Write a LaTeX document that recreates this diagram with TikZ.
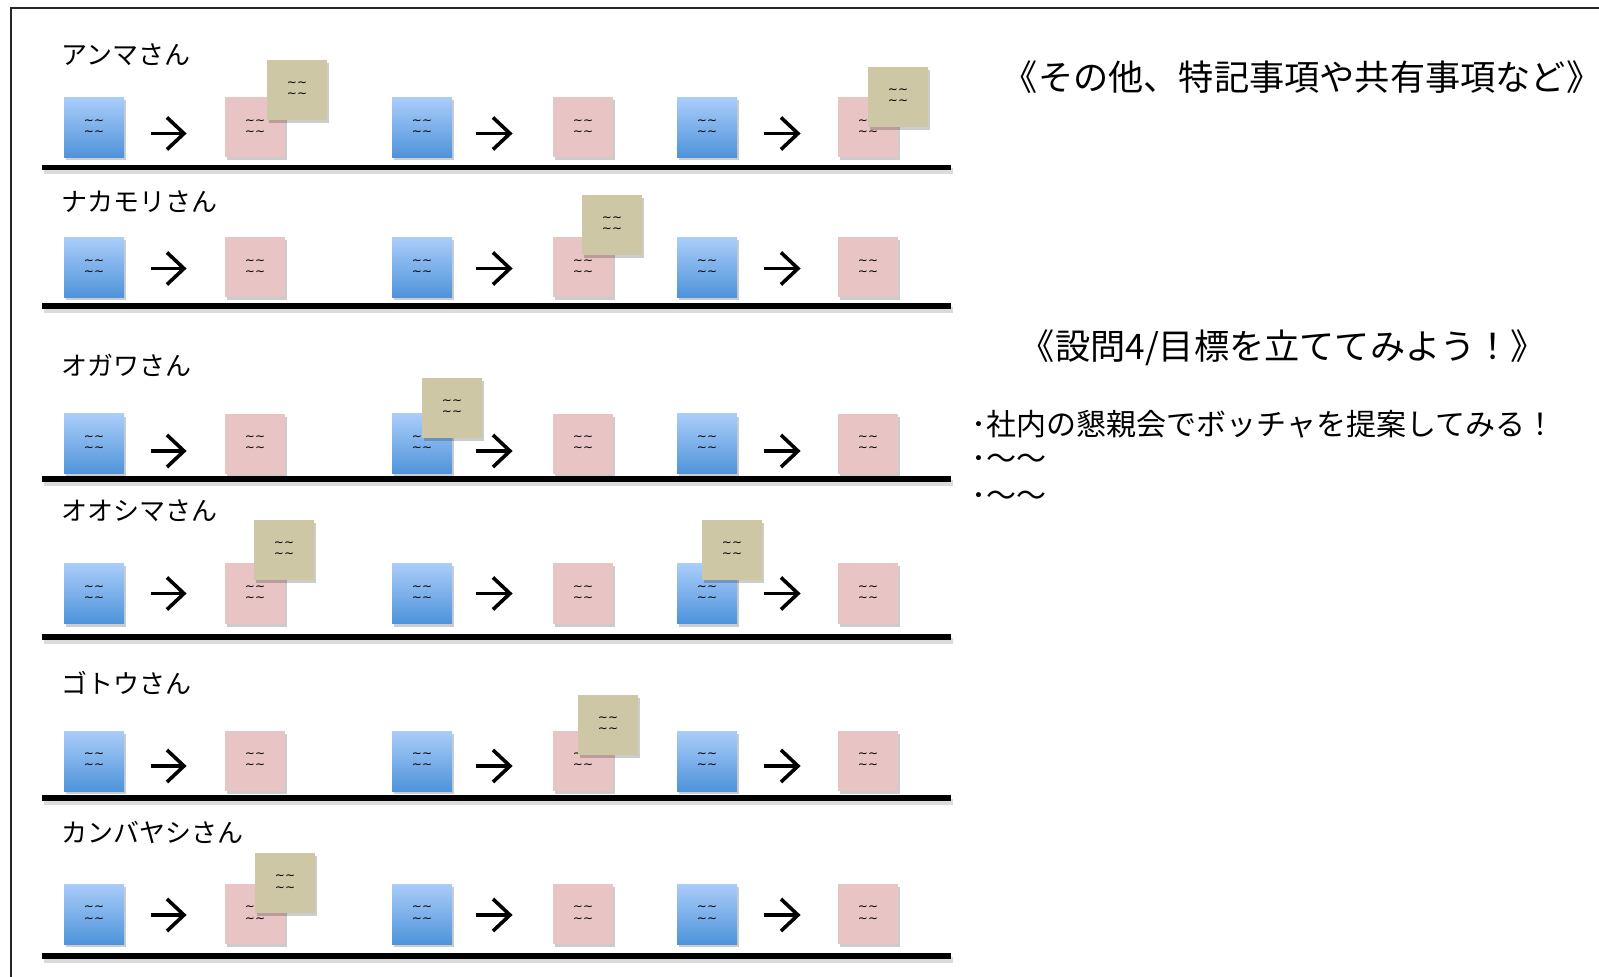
\documentclass[tikz,border=0pt]{standalone}
\usepackage{fontspec}
\newfontfamily\jp{Noto Sans CJK JP}
\newfontfamily\dv{DejaVu Sans}
\usetikzlibrary{arrows.meta,shadows}
\definecolor{bluetop}{RGB}{170,205,250}
\definecolor{bluebot}{RGB}{78,147,218}
\definecolor{pinkc}{RGB}{233,196,196}
\definecolor{tanc}{RGB}{205,199,166}
\newcommand\tl{∼∼}
\tikzset{
  note/.style={minimum width=30pt, minimum height=30pt, inner sep=0pt, align=center,
    font=\dv\fontsize{6pt}{5.6pt}\selectfont,
    drop shadow={shadow xshift=1pt, shadow yshift=-1.5pt, fill=black, opacity=0.2}},
  bluebox/.style={note, top color=bluetop, bottom color=bluebot},
  pinkbox/.style={note, fill=pinkc},
  tanbox/.style={note, fill=tanc},
  flow/.style={line width=1.8pt, -{Straight Barb[length=8.5pt,width=16pt,line width=1.8pt]}},
  rowline/.style={line width=2.6pt, black},
  rowshadow/.style={line width=3pt, black!20, opacity=0.7},
  lbl/.style={anchor=west, inner sep=0pt, font=\jp\fontsize{13pt}{15pt}\selectfont},
  ttl/.style={inner sep=0pt, font=\jp\fontsize{17.6pt}{20pt}\selectfont},
  bul/.style={anchor=west, inner sep=0pt, font=\jp\fontsize{15pt}{17pt}\selectfont},
  frame/.style={line width=1pt, black!85}
}
% #1 id, #2 label, #3 label y, #4 box y, #5 line y, #6 arrow shift (pt, negative = down)
\newcommand\drawrow[6]{%
  \node[lbl] (l#1) at (61,#3) {#2};
  \node[bluebox] (b#1a) at (94,#4) {\tl\\\tl};
  \node[pinkbox] (p#1a) at (255,#4) {\tl\\\tl};
  \node[bluebox] (b#1b) at (422,#4) {\tl\\\tl};
  \node[pinkbox] (p#1b) at (583,#4) {\tl\\\tl};
  \node[bluebox] (b#1c) at (707,#4) {\tl\\\tl};
  \node[pinkbox] (p#1c) at (868,#4) {\tl\\\tl};
  \draw[flow] ([xshift=13.5pt,yshift=#6]b#1a.east) -- ([xshift=-19pt,yshift=#6]p#1a.west);
  \draw[flow] ([xshift=12pt,yshift=#6]b#1b.east) -- ([xshift=-20pt,yshift=#6]p#1b.west);
  \draw[flow] ([xshift=13.5pt,yshift=#6]b#1c.east) -- ([xshift=-18.5pt,yshift=#6]p#1c.west);
  \draw[rowshadow] (44,{#5+4}) -- (953,{#5+4});
  \draw[rowline] (42,#5) -- (951,#5);
}
\begin{document}
\begin{tikzpicture}[x=0.5pt,y=-0.5pt]
\useasboundingbox (0,0) rectangle (1599,977);
\fill[white] (0,0) rectangle (1599,977);
\draw[frame] (11,1000) -- (11,8) -- (1620,8);

\drawrow{1}{アンマさん}{55}{127.5}{167.5}{-3pt}
\drawrow{2}{ナカモリさん}{202}{267.5}{306}{-0.5pt}
\drawrow{3}{オガワさん}{365}{444}{479}{-3.5pt}
\drawrow{4}{オオシマさん}{511}{593.5}{637}{0pt}
\drawrow{5}{ゴトウさん}{683}{761}{798}{-2.5pt}
\drawrow{6}{カンバヤシさん}{832}{914}{956}{-0.5pt}

\node[tanbox] (t1a) at (297,90) {\tl\\\tl};
\node[tanbox] (t1c) at (898,97) {\tl\\\tl};
\node[tanbox] (t2b) at (612,225) {\tl\\\tl};
\node[tanbox] (t3b) at (452,408) {\tl\\\tl};
\node[tanbox] (t4a) at (284,550) {\tl\\\tl};
\node[tanbox] (t4c) at (732,550) {\tl\\\tl};
\node[tanbox] (t5b) at (608,724.5) {\tl\\\tl};
\node[tanbox] (t6a) at (285,883) {\tl\\\tl};

\node[ttl] (h1) at (1302,77) {《その他、特記事項や共有事項など》};
\node[ttl] (h2) at (1283,348) {《設問4/目標を立ててみよう！》};
\node[bul] (u1) at (971,424) {･社内の懇親会でボッチャを提案してみる！};
\node[bul] (u2) at (971,462) {･〜〜};
\node[bul] (u3) at (971,499) {･〜〜};
\end{tikzpicture}
\end{document}
